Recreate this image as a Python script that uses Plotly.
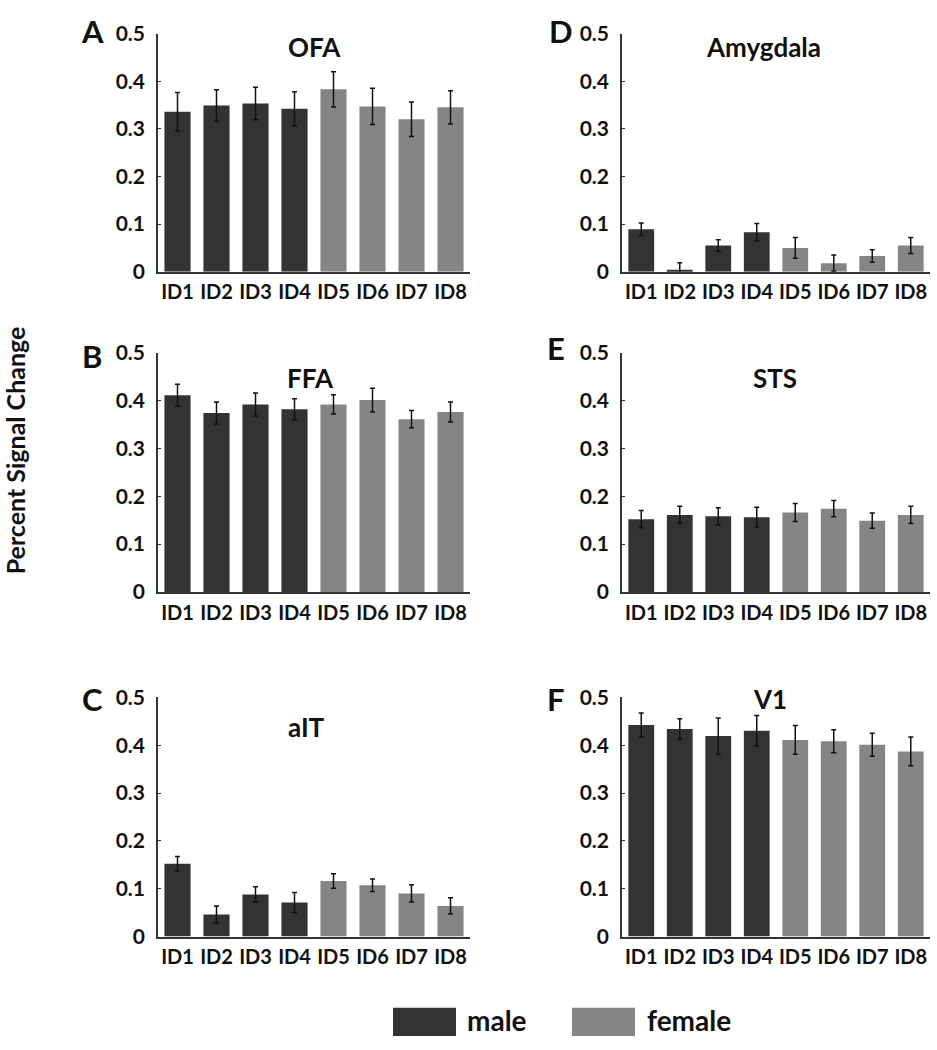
import plotly.graph_objects as go

ids = ["ID1", "ID2", "ID3", "ID4", "ID5", "ID6", "ID7", "ID8"]
sex = ["male", "male", "male", "male", "female", "female", "female", "female"]

ofa = [0.336, 0.349, 0.353, 0.342, 0.383, 0.347, 0.320, 0.345]
ofa_err = [0.040, 0.033, 0.034, 0.036, 0.037, 0.038, 0.036, 0.035]
ffa = [0.411, 0.374, 0.392, 0.382, 0.392, 0.401, 0.361, 0.376]
ffa_err = [0.023, 0.023, 0.024, 0.022, 0.020, 0.025, 0.018, 0.021]
ait = [0.152, 0.046, 0.088, 0.071, 0.116, 0.107, 0.090, 0.064]
ait_err = [0.015, 0.018, 0.016, 0.021, 0.015, 0.013, 0.018, 0.017]
amyg = [0.089, 0.004, 0.055, 0.083, 0.050, 0.018, 0.033, 0.055]
amyg_err = [0.013, 0.015, 0.012, 0.018, 0.022, 0.017, 0.013, 0.017]
sts = [0.152, 0.161, 0.158, 0.156, 0.166, 0.174, 0.149, 0.161]
sts_err = [0.018, 0.018, 0.018, 0.021, 0.019, 0.017, 0.016, 0.018]
v1 = [0.442, 0.434, 0.419, 0.430, 0.411, 0.408, 0.401, 0.387]
v1_err = [0.025, 0.021, 0.038, 0.032, 0.030, 0.024, 0.024, 0.030]

y_ticks = [0, 0.1, 0.2, 0.3, 0.4, 0.5]
y_ticktext = ["0", "0.1", "0.2", "0.3", "0.4", "0.5"]

colors = {"male": "#333333", "female": "#858585"}
FONT = "Lato"
W, H = 937, 1050

# (letter, title, values, errors, col, row, title_pos_in_domain)
panels = [
    ("A", "OFA", ofa, ofa_err, 0, 0, (0.50, 0.945)),
    ("B", "FFA", ffa, ffa_err, 0, 1, (0.49, 0.895)),
    ("C", "aIT", ait, ait_err, 0, 2, (0.475, 0.878)),
    ("D", "Amygdala", amyg, amyg_err, 1, 0, (0.46, 0.945)),
    ("E", "STS", sts, sts_err, 1, 1, (0.497, 0.893)),
    ("F", "V1", v1, v1_err, 1, 2, (0.48, 0.995)),
]

col_px = [(158, 470), (622, 930)]
row_px = [(20, 264), (347, 592), (700, 945)]
letter_px = {"A": (92, 17), "B": (92, 350), "C": (92, 702),
             "D": (561, 17), "E": (556, 342), "F": (556, 702)}

fig = go.Figure()
annotations = []
for i, (letter, title, vals, errs, c, r, tpos) in enumerate(panels):
    n = i + 1
    xa = "x" if n == 1 else f"x{n}"
    ya = "y" if n == 1 else f"y{n}"
    fig.add_trace(go.Bar(
        x=ids, y=vals, xaxis=xa, yaxis=ya,
        marker=dict(color=[colors[s] for s in sex], line=dict(width=0)),
        error_y=dict(type="data", array=errs, visible=True, color="#111111",
                     thickness=1.5, width=2.5),
        showlegend=False,
    ))
    x0, x1 = col_px[c]
    y0, y1 = row_px[r]
    xdom = [x0 / W, x1 / W]
    ydom = [1 - y1 / H, 1 - y0 / H]
    fig.layout[f"xaxis{'' if n == 1 else n}"] = dict(
        domain=xdom, anchor=ya, range=[-0.5, 7.5], showline=True,
        linecolor="#333333", linewidth=1.5, ticks="", showgrid=False,
        zeroline=False, ticklabelstandoff=2,
        tickfont=dict(family=FONT, size=20, color="#111111", weight="bold"),
        fixedrange=True,
    )
    fig.layout[f"yaxis{'' if n == 1 else n}"] = dict(
        domain=ydom, anchor=xa, range=[0, 0.5], showline=True,
        linecolor="#333333", linewidth=1.5, ticks="inside", ticklen=3,
        tickcolor="#333333", tickvals=y_ticks, ticktext=y_ticktext,
        showgrid=False, zeroline=False, ticklabelstandoff=7,
        tickfont=dict(family=FONT, size=21, color="#111111", weight="bold"),
        fixedrange=True,
    )
    annotations.append(dict(
        text=title, xref=f"{xa} domain", yref=f"{ya} domain",
        x=tpos[0], y=tpos[1], xanchor="center", yanchor="middle",
        showarrow=False, font=dict(family=FONT, size=26, color="#111111", weight="bold"),
    ))
    lx, ly = letter_px[letter]
    annotations.append(dict(
        text=letter, xref="paper", yref="paper", x=lx / W, y=1 - ly / H,
        xanchor="center", yanchor="middle", showarrow=False,
        font=dict(family=FONT, size=31, color="#111111", weight="bold"),
    ))

annotations.append(dict(
    text="Percent Signal Change", xref="paper", yref="paper",
    x=15 / W, y=1 - 447 / H, textangle=-90, xanchor="center", yanchor="middle",
    showarrow=False, font=dict(family=FONT, size=25, color="#111111", weight="bold"),
))

# legend swatches and labels
legend_items = [("male", 393, 465), ("female", 572, 645)]
shapes = []
for name, bx, tx in legend_items:
    shapes.append(dict(type="rect", xref="paper", yref="paper",
                       x0=bx / W, x1=(bx + 63) / W, y0=1 - 1047 / H, y1=1 - 1018 / H,
                       fillcolor=colors[name], line=dict(width=0)))
    annotations.append(dict(
        text=name, xref="paper", yref="paper", x=tx / W, y=1 - 1031 / H,
        xanchor="left", yanchor="middle", showarrow=False,
        font=dict(family=FONT, size=28, color="#111111", weight="bold"),
    ))

fig.update_layout(
    width=W, height=H, margin=dict(l=0, r=0, t=0, b=0),
    paper_bgcolor="white", plot_bgcolor="white",
    bargap=0.33, annotations=annotations, shapes=shapes,
)

fig.write_html("out.html", config={"displayModeBar": False},
               post_script="document.body.style.margin='0';document.body.style.overflow='hidden';")
